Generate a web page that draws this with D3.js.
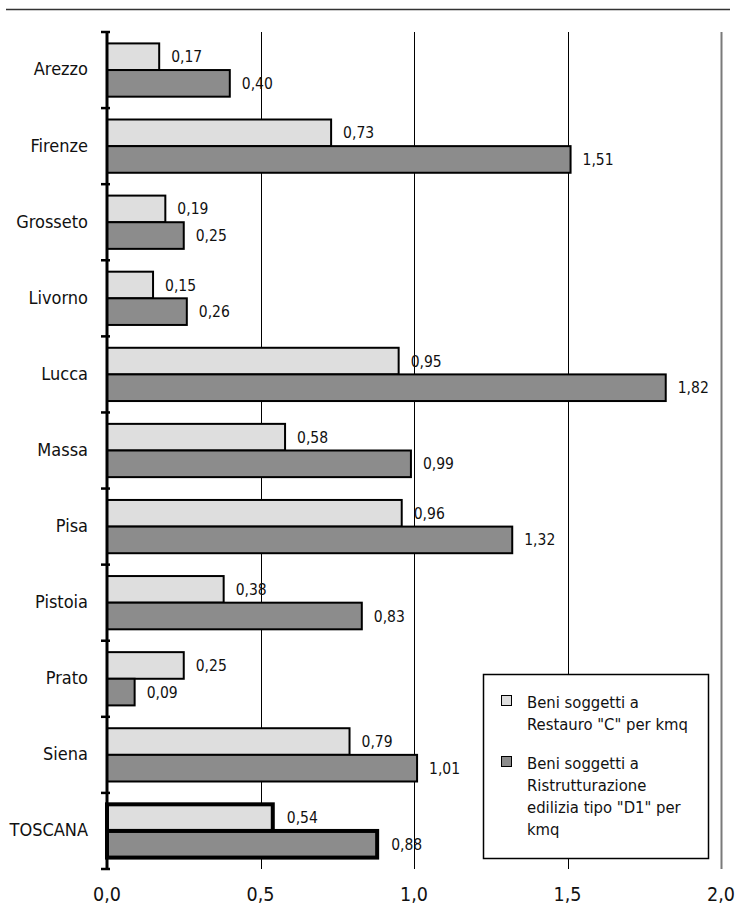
<!DOCTYPE html>
<html>
<head>
<meta charset="utf-8">
<script src="https://cdn.jsdelivr.net/npm/d3@7"></script>
<style>
  html, body { margin: 0; padding: 0; background: #fff; }
  svg { display: block; font-family: "DejaVu Sans Condensed", "DejaVu Sans", sans-serif; font-stretch: condensed; }
</style>
</head>
<body>
<svg id="chart" width="736" height="909"></svg>
<script>
// Provinces of Tuscany plus the regional total
const categories = ["Arezzo", "Firenze", "Grosseto", "Livorno", "Lucca", "Massa", "Pisa", "Pistoia", "Prato", "Siena", "TOSCANA"];
// Beni soggetti a Restauro "C" per kmq
const restauroC = [0.17, 0.73, 0.19, 0.15, 0.95, 0.58, 0.96, 0.38, 0.25, 0.79, 0.54];
// Beni soggetti a Ristrutturazione edilizia tipo "D1" per kmq
const ristrutturazioneD1 = [0.40, 1.51, 0.25, 0.26, 1.82, 0.99, 1.32, 0.83, 0.09, 1.01, 0.88];
const seriesNames = ["Beni soggetti a\nRestauro \"C\" per kmq", "Beni soggetti a\nRistrutturazione\nedilizia tipo \"D1\" per\nkmq"];
const xTicks = [0, 0.5, 1.0, 1.5, 2.0];
const totalLabel = "TOSCANA";

const colors = ["#dedede", "#8c8c8c"];
const fmt = v => d3.format(".2f")(v).replace(".", ",");
const fmtTick = v => d3.format(".1f")(v).replace(".", ",");

const svg = d3.select("#chart");

const x = d3.scaleLinear().domain([0, 2]).range([107, 721]);
const y = d3.scaleBand().domain(categories).range([32, 869]).paddingInner(0.3).paddingOuter(0.15);
const keys = [0, 1];
const ySub = d3.scaleBand().domain(keys).range([0, y.bandwidth()]).padding(0);

const rows = categories.map((c, i) => ({ cat: c, values: [restauroC[i], ristrutturazioneD1[i]] }));

// top rule
svg.append("line").attr("x1", 6).attr("x2", 730).attr("y1", 9.5).attr("y2", 9.5)
  .attr("stroke", "#333").attr("stroke-width", 1.5);

const [yTop, yBot] = y.range();

// vertical gridlines
svg.append("g").selectAll("line").data(xTicks.filter(t => t > 0)).join("line")
  .attr("x1", d => Math.round(x(d)) + 0.5).attr("x2", d => Math.round(x(d)) + 0.5)
  .attr("y1", yTop).attr("y2", yBot)
  .attr("stroke", d => d === 2 ? "#7a7a7a" : "#000")
  .attr("stroke-width", d => d === 2 ? 2 : 1);

// bars
const groups = svg.append("g").selectAll("g").data(rows).join("g")
  .attr("transform", d => `translate(0,${y(d.cat)})`);

groups.selectAll("rect").data(d => d.values.map((v, k) => ({ v, k, total: d.cat === totalLabel }))).join("rect")
  .attr("x", x(0))
  .attr("y", d => ySub(d.k))
  .attr("width", d => x(d.v) - x(0))
  .attr("height", ySub.bandwidth())
  .attr("fill", d => colors[d.k])
  .attr("stroke", "#000")
  .attr("stroke-width", d => d.total ? 4 : 2);

groups.selectAll("text").data(d => d.values.map((v, k) => ({ v, k, total: d.cat === totalLabel }))).join("text")
  .attr("x", d => x(d.v) + (d.total ? 14 : 12))
  .attr("y", d => ySub(d.k) + ySub.bandwidth() / 2)
  .attr("dy", "0.36em")
  .attr("font-size", 15.5)
  .attr("fill", "#111")
  .text(d => fmt(d.v));

// category axis
const step = y.step();
const tickYs = d3.range(categories.length + 1).map(i => yTop + i * step);
svg.append("line").attr("x1", x(0)).attr("x2", x(0)).attr("y1", yTop).attr("y2", yBot)
  .attr("stroke", "#000").attr("stroke-width", 3);
svg.append("g").selectAll("line").data(tickYs).join("line")
  .attr("x1", x(0) - 6).attr("x2", x(0) + 3)
  .attr("y1", d => d).attr("y2", d => d)
  .attr("stroke", "#000").attr("stroke-width", 2.5);

svg.append("g").selectAll("text").data(categories).join("text")
  .attr("x", 88)
  .attr("y", d => y(d) + y.bandwidth() / 2)
  .attr("dy", "0.3em")
  .attr("text-anchor", "end")
  .attr("font-size", 18)
  .attr("fill", "#111")
  .text(d => d);

// value axis labels
svg.append("g").selectAll("text").data(xTicks).join("text")
  .attr("x", d => x(d))
  .attr("y", 901)
  .attr("text-anchor", "middle")
  .attr("font-size", 19.5)
  .attr("fill", "#111")
  .text(d => fmtTick(d));

// legend
const legend = svg.append("g");
legend.append("rect").attr("x", 483.5).attr("y", 674.5).attr("width", 225).attr("height", 184)
  .attr("fill", "#fff").attr("stroke", "#000").attr("stroke-width", 1.5);
const itemTops = [695, 756];
seriesNames.forEach((name, k) => {
  legend.append("rect").attr("x", 501.5).attr("y", itemTops[k] + 0.5).attr("width", 10).attr("height", 10)
    .attr("fill", colors[k]).attr("stroke", "#000").attr("stroke-width", 1);
  const t = legend.append("text").attr("x", 527).attr("y", itemTops[k] + 13)
    .attr("font-size", 16.5).attr("fill", "#111");
  name.split("\n").forEach((line, j) => {
    t.append("tspan").attr("x", 527).attr("dy", j === 0 ? 0 : 22).text(line);
  });
});
</script>
</body>
</html>
